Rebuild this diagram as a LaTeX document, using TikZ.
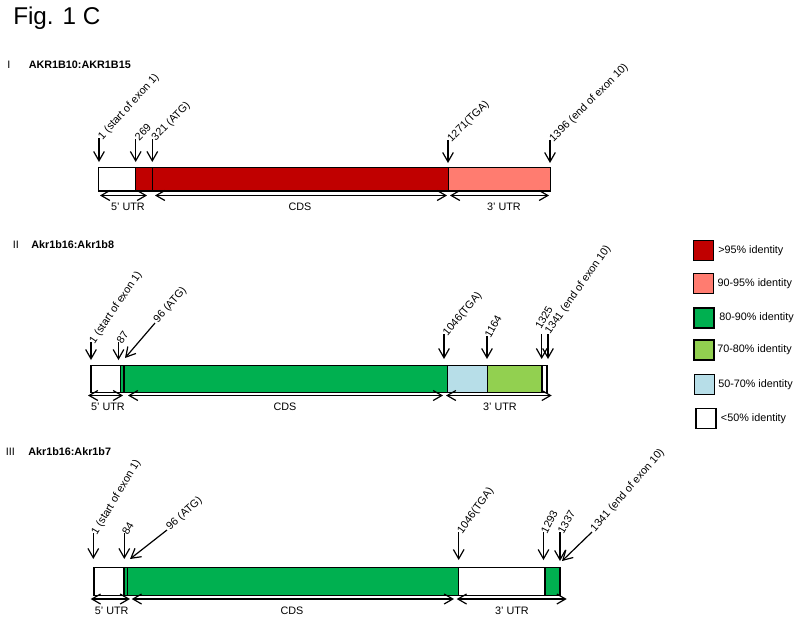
\documentclass[tikz,border=0pt]{standalone}
\usepackage{fontspec}
\setmainfont{Liberation Sans}
\usetikzlibrary{arrows.meta}
\definecolor{idred}{HTML}{C00000}
\definecolor{idsalmon}{HTML}{FF7C70}
\definecolor{idgreen}{HTML}{00B050}
\definecolor{idlime}{HTML}{92D050}
\definecolor{idblue}{HTML}{B7DEE8}
\tikzset{
  fc/.style={font=\fontsize{8.1}{9.7}\selectfont, text=black},
  fcseg/.style={draw=black, line width=1pt},
  fcarr/.style={-{Straight Barb[length=7pt,width=8pt]}, line width=0.9pt},
  fcspan/.style={{Straight Barb[length=6.5pt,width=7.5pt]}-{Straight Barb[length=6.5pt,width=7.5pt]}, line width=0.9pt},
  fclbl/.style={anchor=base west, inner sep=0pt},
  fcpart/.style={inner sep=0pt},
  fckey/.style={draw=black, line width=1pt, minimum size=15pt, inner sep=0pt},
}
% marker arrow: name, x, top, tip, angle, text
\newcommand{\fcmark}[6]{%
  \coordinate (#1top) at (#2,#3);
  \coordinate (#1tip) at (#2,#4);
  \draw[fcarr] (#1top) -- (#1tip);
  \node[fclbl, rotate=#5] (#1lbl) at ([shift={(3.5,2.5)}]#1top) {#6};}
% slanted marker arrow: name, x1, y1, x2, y2, angle, text
\newcommand{\fcslant}[7]{%
  \coordinate (#1top) at (#2,#3);
  \coordinate (#1tip) at (#4,#5);
  \draw[fcarr] (#1top) -- (#1tip);
  \node[fclbl, rotate=#6] (#1lbl) at ([shift={(3,0.5)}]#1top) {#7};}
% region span below a bar: name, x1, x2, y, label x, text
\newcommand{\fcregion}[6]{%
  \coordinate (#1s) at (#2,#4);
  \coordinate (#1e) at (#3,#4);
  \draw[fcspan] (#1s) -- (#1e);
  \node[fcpart] (#1lbl) at (#5,#4+11.5) {#6};}

\begin{document}
\begin{tikzpicture}[fc, x=0.75pt, y=-0.75pt]
  \useasboundingbox (0,0) rectangle (800,622);
  \node[fcpart, anchor=base west, font=\fontsize{18.2}{22}\selectfont] (title) at (13,24.5) {Fig. 1 C};

  % I
  \node[fcpart, anchor=base west] (numI) at (7,68.3) {I};
  \node[fcpart, anchor=base west, font=\fontsize{8.1}{9.7}\selectfont\bfseries] (nameI) at (28.5,68.3) {AKR1B10:AKR1B15};
  \draw[fcseg, fill=white] (98.7,167.7) rectangle (135.7,191);
  \draw[fcseg, fill=idred] (135.7,167.7) rectangle (152.3,191);
  \draw[fcseg, fill=idred] (152.3,167.7) rectangle (448.3,191);
  \draw[fcseg, fill=idsalmon] (448.3,167.7) rectangle (550.7,191);
  \fcmark{ia}{99}{138}{162}{48}{1 (start of exon 1)}
  \fcmark{ib}{135.7}{139}{162}{46}{269}
  \fcmark{ic}{152.3}{139}{162}{46}{321 (ATG)}
  \fcmark{id}{448}{140}{163}{45}{1271(TGA)}
  \fcmark{ie}{550}{140}{163}{45}{1396 (end of exon 10)}
  \fcregion{iu}{100}{147}{195.5}{128}{5' UTR}
  \fcregion{ic}{155}{447}{195.5}{300}{CDS}
  \fcregion{id}{450}{549}{195.5}{504}{3' UTR}

  % II
  \node[fcpart, anchor=base west] (numII) at (12.5,248.3) {II};
  \node[fcpart, anchor=base west, font=\fontsize{8.1}{9.7}\selectfont\bfseries] (nameII) at (31,248.3) {Akr1b16:Akr1b8};
  \draw[fcseg, fill=white] (91,365.7) rectangle (120.7,392.3);
  \draw[fcseg, fill=idgreen] (120.7,365.7) rectangle (124,392.3);
  \draw[fcseg, fill=idgreen] (124,365.7) rectangle (447.3,392.3);
  \draw[fcseg, fill=idblue] (447.3,365.7) rectangle (487.3,392.3);
  \draw[fcseg, fill=idlime] (487.3,365.7) rectangle (542,392.3);
  \draw[fcseg, fill=white] (542,365.7) rectangle (547,392.3);
  \fcmark{iia}{91}{342}{360}{56}{1 (start of exon 1)}
  \fcmark{iib}{118.5}{342}{360}{56}{87}
  \fcslant{iic}{155}{323}{125}{358}{49}{96 (ATG)}
  \fcmark{iid}{444}{334}{359}{50}{1046(TGA)}
  \fcmark{iie}{487}{336}{359}{60}{1164}
  \coordinate (iiftop) at (541.7,334); \coordinate (iiftip) at (541.7,359);
  \draw[fcarr] (iiftop) -- (iiftip);
  \node[fclbl, rotate=60] (iiflbl) at (541,330) {1325};
  \coordinate (iigtop) at (548,334); \coordinate (iigtip) at (548,359);
  \draw[fcarr] (iigtop) -- (iigtip);
  \node[fclbl, rotate=55] (iiglbl) at (550,335) {1341 (end of exon 10)};
  \fcregion{iiu}{88}{123}{395.5}{108}{5' UTR}
  \fcregion{iic}{128}{443}{395.5}{285}{CDS}
  \fcregion{iid}{446}{551.7}{395.5}{500}{3' UTR}

  % III
  \node[fcpart, anchor=base west] (numIII) at (5.5,455.7) {III};
  \node[fcpart, anchor=base west, font=\fontsize{8.1}{9.7}\selectfont\bfseries] (nameIII) at (28,455.7) {Akr1b16:Akr1b7};
  \draw[fcseg, fill=white] (94,567.3) rectangle (124,595.7);
  \draw[fcseg, fill=idgreen] (124,567.3) rectangle (127.7,595.7);
  \draw[fcseg, fill=idgreen] (127.7,567.3) rectangle (458.7,595.7);
  \draw[fcseg, fill=white] (458.7,567.3) rectangle (545,595.7);
  \draw[fcseg, fill=idgreen] (545,567.3) rectangle (559.5,595.7);
  \draw[fcseg, fill=idgreen] (559.5,567.3) rectangle (560.7,595.7);
  \fcmark{iiia}{93.3}{533}{559}{59}{1 (start of exon 1)}
  \fcmark{iiib}{124.3}{533}{559}{59}{84}
  \fcslant{iiic}{167}{530}{130}{559}{42}{96 (ATG)}
  \fcmark{iiid}{458.7}{532}{560}{54}{1046(TGA)}
  \fcmark{iiie}{543.5}{532}{560}{63}{1293}
  \fcmark{iiif}{560}{532}{561}{60}{1337}
  \fcslant{iiig}{592}{532}{562}{561}{49}{1341 (end of exon 10)}
  \fcregion{iiiu}{90.7}{130}{599}{111.7}{5' UTR}
  \fcregion{iiic}{131.7}{454}{599}{292}{CDS}
  \fcregion{iiid}{456.7}{566.7}{599}{512}{3' UTR}

  % legend
  \foreach \ky/\kx/\tx/\kc/\kt in {250.7/703.3/718/idred/{>95\% identity},
      283.3/703.3/717.3/idsalmon/{90-95\% identity}, 318/704/719/idgreen/{80-90\% identity},
      350/704/717/idlime/{70-80\% identity}, 384.3/704.7/718/idblue/{50-70\% identity},
      418.3/706/720.7/white/{<50\% identity}}{
    \node[fckey, fill=\kc] (key\kc) at (\kx,\ky) {};
    \node[fcpart, anchor=west] (keytxt\kc) at (\tx,\ky) {\kt};
  }
\end{tikzpicture}
\end{document}
